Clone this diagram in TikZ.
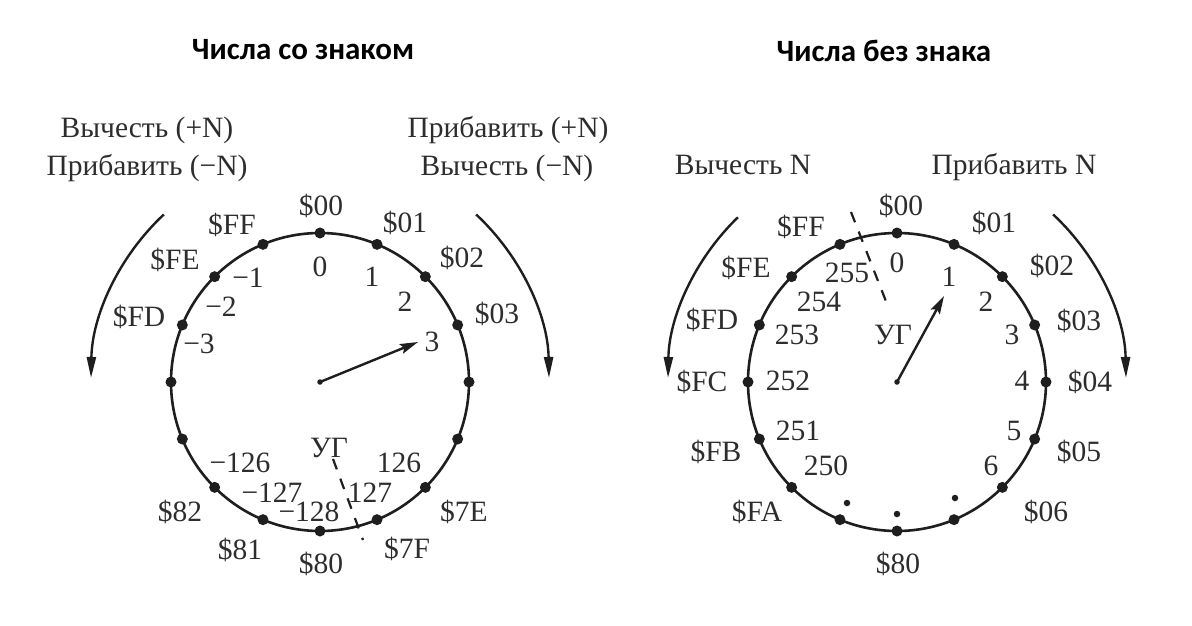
\documentclass[tikz,border=0pt]{standalone}
\usepackage{fontspec}
\setmainfont{Liberation Serif}
\newfontfamily\hdfont{Carlito}
\usetikzlibrary{arrows.meta}
\definecolor{ink}{RGB}{30,30,30}
\definecolor{txt}{RGB}{45,45,45}
\begin{document}
\begin{tikzpicture}[x=1pt,y=-1pt,
  lbl/.style={inner sep=0pt, font=\fontsize{29.5}{32}\selectfont, text=txt},
  hd/.style={inner sep=0pt, font=\hdfont\bfseries\fontsize{31}{36}\selectfont, text=black},
  ring/.style={draw=ink, line width=2.6pt},
  dot/.style={circle, fill=ink, inner sep=0pt, minimum size=11pt},
  sdot/.style={circle, fill=ink, inner sep=0pt, minimum size=6.5pt},
  cdot/.style={circle, fill=ink, inner sep=0pt, minimum size=5.5pt},
  ugdash/.style={draw=ink, line width=2.2pt, dash pattern=on 11pt off 10pt},
  hand/.style={draw=ink, line width=2.4pt, -{Stealth[length=18pt,width=10pt,inset=3pt]}},
  turn/.style={draw=ink, line width=2.4pt, -{Triangle[length=21pt,width=9pt]}},
]
\useasboundingbox[fill=white] (0,0) rectangle (1192,625);

% ---------- headings ----------
\node[hd] (h1) at (303,50) {Числа со знаком};
\node[hd] (h2) at (884,51) {Числа без знака};

% ---------- top texts ----------
\node[lbl, anchor=base] (t1) at (147,137) {Вычесть (+N)};
\node[lbl, anchor=base] (t2) at (147,175) {Прибавить (−N)};
\node[lbl, anchor=base] (t3) at (508,137) {Прибавить (+N)};
\node[lbl, anchor=base] (t4) at (507,175) {Вычесть (−N)};
\node[lbl, anchor=base] (t5) at (743,174) {Вычесть N};
\node[lbl, anchor=base] (t6) at (1014,174) {Прибавить N};

% ---------- left circle ----------
\coordinate (C1) at (320,382);
\draw[ring] (C1) circle[radius=149];
\foreach \k in {0,...,15}
  \node[dot] (La\k) at ([shift={({22.5*\k-90}:149)}]C1) {};

\foreach \x/\y/\t/\n in {321/206/\$00/L00, 405/223/\$01/L01, 462/258/\$02/L02, 497/314/\$03/L03,
  464/512/\$7E/L7E, 407/549/\$7F/L7F, 321/564/\$80/L80, 240/550/\$81/L81, 180/512/\$82/L82,
  139/317/\$FD/LFD, 175/260/\$FE/LFE, 232/225/\$FF/LFF,
  320/267/0/Ln0, 372/277/1/Ln1, 405/302/2/Ln2, 432/342/3/Ln3,
  248/278/−1/Lm1, 221/307/−2/Lm2, 199/344/−3/Lm3,
  240/463/−126/Lm126, 399/463/126/Ln126, 272/493/−127/Lm127, 370/493/127/Ln127,
  309/512/−128/Lm128, 329/448/УГ/LUG}
  \node[lbl] (\n) at (\x,\y) {\t};

\coordinate (Lda) at (333,459);
\coordinate (Ldb) at (363,540);
\draw[ugdash] (Lda) -- (Ldb);

\node[cdot] (Lc) at (C1) {};
\coordinate (Lt) at (418,342);
\draw[hand] (Lc.center) -- (Lt);

\coordinate (LaS) at ([shift={(-133:229)}]C1);
\draw[turn] (LaS) arc[start angle=-133, end angle=-179, radius=229];
\coordinate (LbS) at ([shift={(-47:229)}]C1);
\draw[turn] (LbS) arc[start angle=-47, end angle=-1, radius=229];

% ---------- right circle ----------
\coordinate (C2) at (897,382);
\draw[ring] (C2) circle[radius=149];
\foreach \k in {0,...,15}
  \node[dot] (Ra\k) at ([shift={({22.5*\k-90}:149)}]C2) {};

\foreach \x/\y/\t/\n in {901/206/\$00/R00, 994/223/\$01/R01, 1052/266/\$02/R02, 1079/321/\$03/R03,
  1090/382/\$04/R04, 1079/452/\$05/R05, 1046/512/\$06/R06, 898/564/\$80/R80,
  757/512/\$FA/RFA, 716/452/\$FB/RFB, 702/382/\$FC/RFC, 712/320/\$FD/RFD, 746/268/\$FE/RFE, 801/227/\$FF/RFF,
  897/263/0/Rn0, 949/277/1/Rn1, 986/302/2/Rn2, 1012/335/3/Rn3, 1022/381/4/Rn4, 1014/431/5/Rn5, 991/466/6/Rn6,
  847/273/255/Rn255, 819/302/254/Rn254, 797/335/253/Rn253, 788/381/252/Rn252, 798/431/251/Rn251, 826/466/250/Rn250,
  893/335/УГ/RUG}
  \node[lbl] (\n) at (\x,\y) {\t};

\node[sdot] (Re1) at (847,503) {};
\node[sdot] (Re2) at (897,514) {};
\node[sdot] (Re3) at (955,498) {};

\coordinate (Rda) at (851,212);
\coordinate (Rdb) at (889,309);
\draw[ugdash] (Rda) -- (Rdb);

\node[cdot] (Rc) at (C2) {};
\coordinate (Rt) at (944,296);
\draw[hand] (Rc.center) -- (Rt);

\coordinate (RaS) at ([shift={(-134:229)}]C2);
\draw[turn] (RaS) arc[start angle=-134, end angle=-179, radius=229];
\coordinate (RbS) at ([shift={(-47:229)}]C2);
\draw[turn] (RbS) arc[start angle=-47, end angle=-1, radius=229];
\end{tikzpicture}
\end{document}
